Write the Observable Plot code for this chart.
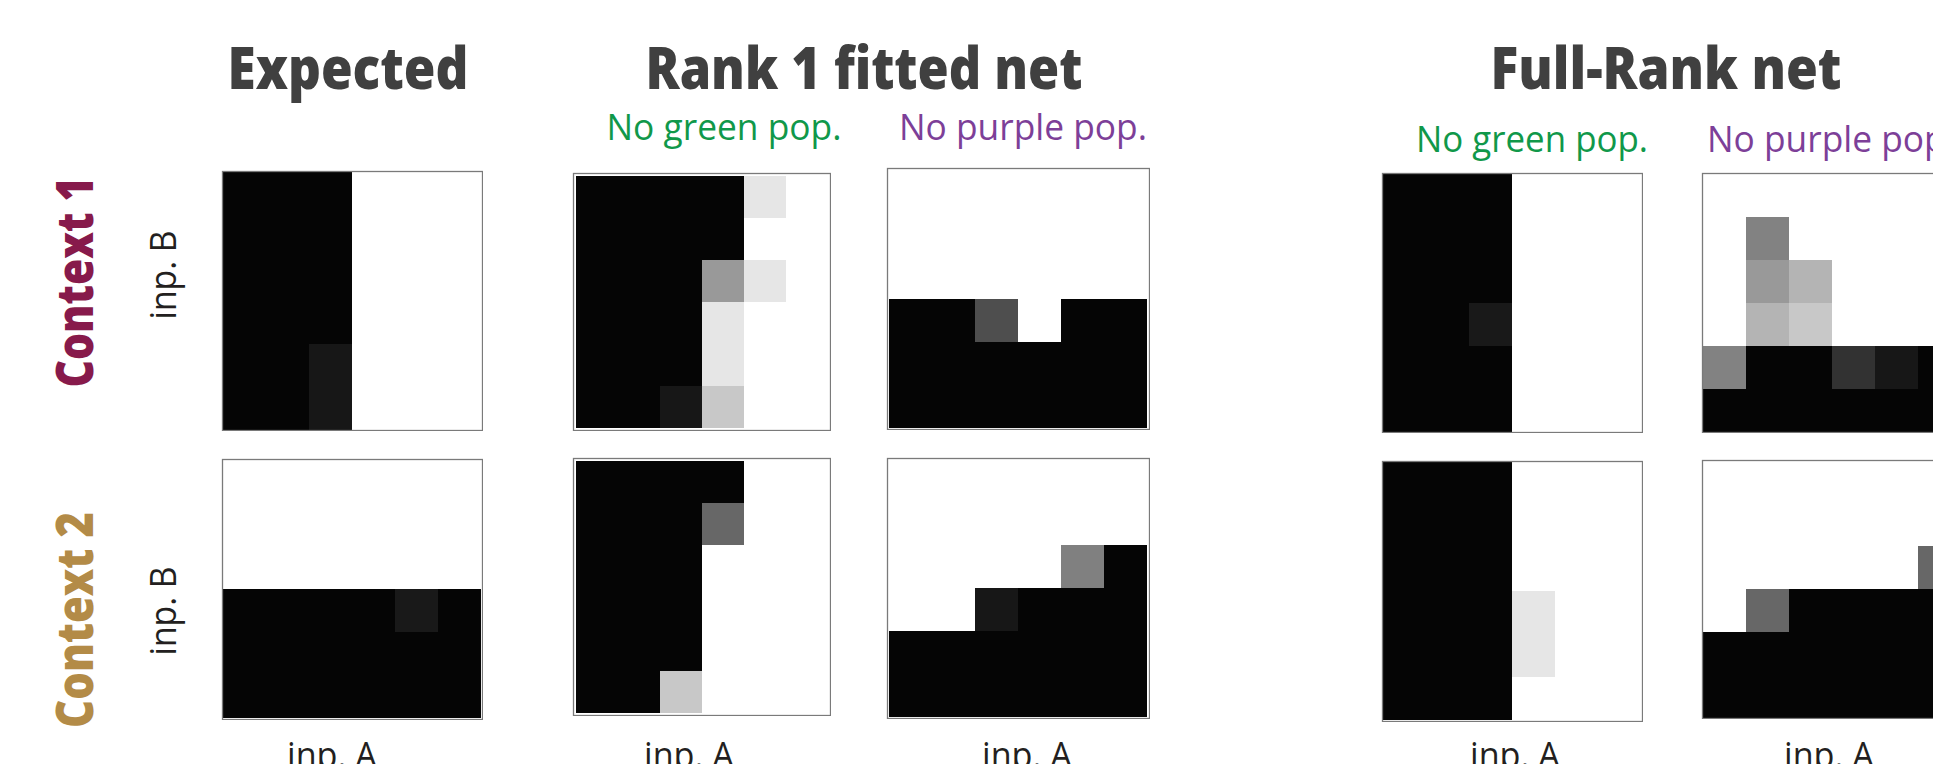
<!DOCTYPE html>
<html>
<head>
<meta charset="utf-8">
<script src="https://cdn.jsdelivr.net/npm/d3@7"></script>
<script src="https://cdn.jsdelivr.net/npm/@observablehq/plot@0.6"></script>
<style>
  html, body { margin: 0; padding: 0; background: #fff; overflow: hidden; }
  #fig { position: relative; width: 1933px; height: 764px; overflow: hidden; background: #fff; }
  .panel { position: absolute; }
  .panel svg { display: block; max-width: none !important; }
  #labels { position: absolute; left: 0; top: 0; }
</style>
</head>
<body>
<div id="fig"></div>
<script>
// Input grid: 6 levels of input A (columns) by 6 levels of input B (rows, top to bottom).
const inputA = [0, 1, 2, 3, 4, 5];
const inputB = [0, 1, 2, 3, 4, 5];

// Network output per grid cell (1 = black, 0 = white).
const expectedCtx1 = [
  [1, 1, 1,    0, 0, 0],
  [1, 1, 1,    0, 0, 0],
  [1, 1, 1,    0, 0, 0],
  [1, 1, 1,    0, 0, 0],
  [1, 1, 0.93, 0, 0, 0],
  [1, 1, 0.93, 0, 0, 0]
];
const expectedCtx2 = [
  [0, 0, 0, 0, 0,    0],
  [0, 0, 0, 0, 0,    0],
  [0, 0, 0, 0, 0,    0],
  [1, 1, 1, 1, 0.92, 1],
  [1, 1, 1, 1, 1,    1],
  [1, 1, 1, 1, 1,    1]
];
const rank1NoGreenCtx1 = [
  [1, 1, 1,    1,    0.10, 0],
  [1, 1, 1,    1,    0,    0],
  [1, 1, 1,    0.41, 0.10, 0],
  [1, 1, 1,    0.10, 0,    0],
  [1, 1, 1,    0.10, 0,    0],
  [1, 1, 0.93, 0.22, 0,    0]
];
const rank1NoGreenCtx2 = [
  [1, 1, 1,    1,    0, 0],
  [1, 1, 1,    0.61, 0, 0],
  [1, 1, 1,    0,    0, 0],
  [1, 1, 1,    0,    0, 0],
  [1, 1, 1,    0,    0, 0],
  [1, 1, 0.22, 0,    0, 0]
];
const rank1NoPurpleCtx1 = [
  [0, 0, 0,    0, 0, 0],
  [0, 0, 0,    0, 0, 0],
  [0, 0, 0,    0, 0, 0],
  [1, 1, 0.71, 0, 1, 1],
  [1, 1, 1,    1, 1, 1],
  [1, 1, 1,    1, 1, 1]
];
const rank1NoPurpleCtx2 = [
  [0, 0, 0,    0, 0,    0],
  [0, 0, 0,    0, 0,    0],
  [0, 0, 0,    0, 0.51, 1],
  [0, 0, 0.93, 1, 1,    1],
  [1, 1, 1,    1, 1,    1],
  [1, 1, 1,    1, 1,    1]
];
const fullRankNoGreenCtx1 = [
  [1, 1, 1,    0, 0, 0],
  [1, 1, 1,    0, 0, 0],
  [1, 1, 1,    0, 0, 0],
  [1, 1, 0.92, 0, 0, 0],
  [1, 1, 1,    0, 0, 0],
  [1, 1, 1,    0, 0, 0]
];
const fullRankNoGreenCtx2 = [
  [1, 1, 1, 0,    0, 0],
  [1, 1, 1, 0,    0, 0],
  [1, 1, 1, 0,    0, 0],
  [1, 1, 1, 0.10, 0, 0],
  [1, 1, 1, 0.10, 0, 0],
  [1, 1, 1, 0,    0, 0]
];
const fullRankNoPurpleCtx1 = [
  [0,    0,    0,    0,    0,    0],
  [0,    0.50, 0,    0,    0,    0],
  [0,    0.41, 0.30, 0,    0,    0],
  [0,    0.30, 0.22, 0,    0,    0],
  [0.50, 1,    1,    0.82, 0.93, 1],
  [1,    1,    1,    1,    1,    1]
];
const fullRankNoPurpleCtx2 = [
  [0, 0,    0, 0, 0, 0],
  [0, 0,    0, 0, 0, 0],
  [0, 0,    0, 0, 0, 0.61],
  [0, 0.61, 1, 1, 1, 1],
  [1, 1,    1, 1, 1, 1],
  [1, 1,    1, 1, 1, 1]
];

// Text
const columnTitles = ["Expected", "Rank 1 fitted net", "Full-Rank net"];
const ablationLabels = ["No green pop.", "No purple pop."];
const contextLabels = ["Context 1", "Context 2"];
const xLabel = "inp. A";
const yLabel = "inp. B";

// Panel placement on the page (left, top, width, height in px).
const layout = [
  { grid: expectedCtx1,         left: 222,  top: 171, width: 260, height: 259 },
  { grid: rank1NoGreenCtx1,     left: 573,  top: 173, width: 257, height: 257 },
  { grid: rank1NoPurpleCtx1,    left: 887,  top: 168, width: 262, height: 261 },
  { grid: fullRankNoGreenCtx1,  left: 1382, top: 173, width: 260, height: 259 },
  { grid: fullRankNoPurpleCtx1, left: 1702, top: 173, width: 260, height: 259 },
  { grid: expectedCtx2,         left: 222,  top: 459, width: 260, height: 260 },
  { grid: rank1NoGreenCtx2,     left: 573,  top: 458, width: 257, height: 257 },
  { grid: rank1NoPurpleCtx2,    left: 887,  top: 458, width: 262, height: 260 },
  { grid: fullRankNoGreenCtx2,  left: 1382, top: 461, width: 260, height: 260 },
  { grid: fullRankNoPurpleCtx2, left: 1702, top: 460, width: 260, height: 258 }
];

const fig = document.getElementById("fig");

function tidy(grid) {
  const out = [];
  grid.forEach((row, r) => row.forEach((v, c) => out.push({ a: inputA[c], b: inputB[r], v })));
  return out;
}

for (const p of layout) {
  const chart = Plot.plot({
    width: p.width + 2,
    height: p.height + 2,
    margin: 1,
    x: { type: "band", domain: inputA, padding: 0, axis: null },
    y: { type: "band", domain: inputB, padding: 0, axis: null },
    color: { type: "linear", domain: [0, 1], range: ["#ffffff", "#050505"], interpolate: "rgb" },
    marks: [
      Plot.cell(tidy(p.grid), { x: "a", y: "b", fill: "v", inset: 0, shapeRendering: "crispEdges" }),
      Plot.frame({ stroke: "#7a7a7a", strokeWidth: 1.3 })
    ]
  });
  chart.style.maxWidth = "none";
  const wrap = document.createElement("div");
  wrap.className = "panel";
  wrap.style.left = (p.left - 1) + "px";
  wrap.style.top = (p.top - 1) + "px";
  wrap.style.width = (p.width + 2) + "px";
  wrap.style.height = (p.height + 2) + "px";
  wrap.appendChild(chart);
  fig.appendChild(wrap);
}

// Labels layer
const svg = d3.select(fig).append("svg")
  .attr("id", "labels")
  .attr("width", 1933)
  .attr("height", 764);

function label(txt, opts) {
  const t = svg.append("text")
    .text(txt)
    .attr("font-family", opts.family || "'Open Sans', 'Noto Sans', sans-serif")
    .attr("font-weight", opts.weight || 400)
    .attr("font-size", opts.size)
    .attr("fill", opts.fill)
    .attr("text-anchor", "middle");
  if (opts.length) t.attr("textLength", opts.length).attr("lengthAdjust", "spacingAndGlyphs");
  if (opts.rotate) {
    t.attr("transform", `translate(${opts.x},${opts.y}) rotate(-90)`);
  } else {
    t.attr("x", opts.x).attr("y", opts.y);
  }
  return t;
}

const titleColor = "#404040";
label(columnTitles[0], { x: 348,  y: 89, size: 59, weight: 800, fill: titleColor, length: 241 });
label(columnTitles[1], { x: 864,  y: 89, size: 59, weight: 800, fill: titleColor, length: 437 });
label(columnTitles[2], { x: 1666, y: 89, size: 59, weight: 800, fill: titleColor, length: 351 });

const green = "#10984a";
const purple = "#7d3f98";
label(ablationLabels[0], { x: 724,  y: 140, size: 36, fill: green,  length: 235 });
label(ablationLabels[1], { x: 1023, y: 140, size: 36, fill: purple, length: 248 });
label(ablationLabels[0], { x: 1532, y: 152, size: 36, fill: green,  length: 232 });
label(ablationLabels[1], { x: 1831, y: 152, size: 36, fill: purple, length: 248 });

label(contextLabels[0], { x: 93, y: 282, size: 51, weight: 800, fill: "#871a4b", length: 211, rotate: true });
label(contextLabels[1], { x: 93, y: 620, size: 51, weight: 800, fill: "#b38b47", length: 216, rotate: true });

const inkColor = "#231f20";
label(yLabel, { x: 176, y: 275, size: 37, fill: inkColor, length: 89, rotate: true });
label(yLabel, { x: 176, y: 611, size: 37, fill: inkColor, length: 89, rotate: true });

for (const cx of [332, 689, 1027, 1515, 1829]) {
  label(xLabel, { x: cx, y: 768, size: 37, fill: inkColor, length: 90 });
}
</script>
</body>
</html>
